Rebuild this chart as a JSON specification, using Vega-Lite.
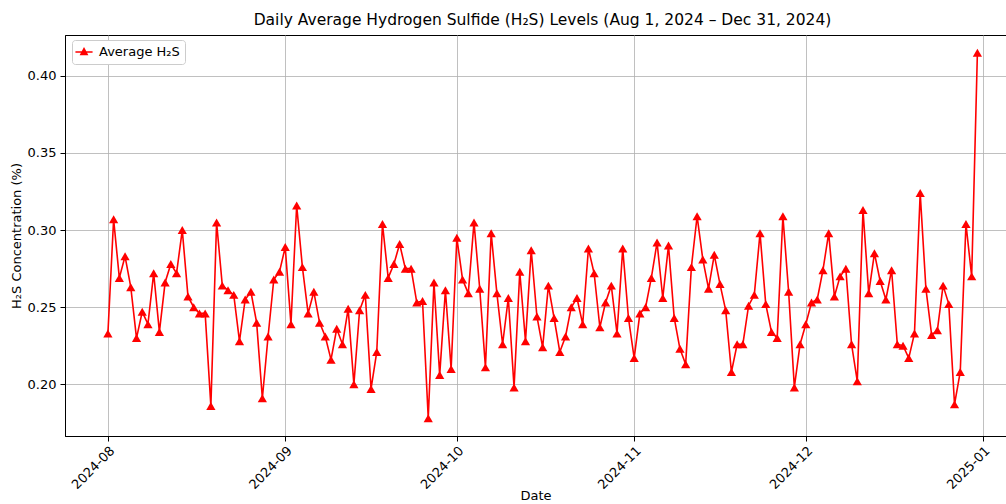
{
  "$schema": "https://vega.github.io/schema/vega-lite/v6.json",
  "width": 941,
  "height": 401,
  "autosize": "none",
  "padding": {"left": 65, "top": 35, "right": 0, "bottom": 68},
  "background": "white",
  "title": {"text": "Daily Average Hydrogen Sulfide (H₂S) Levels (Aug 1, 2024 – Dec 31, 2024)", "font": "DejaVu Sans", "fontSize": 15.5, "fontWeight": "normal", "color": "black", "offset": 7, "dx": 7},
  "config": {
    "font": "DejaVu Sans",
    "view": {"stroke": "black", "strokeWidth": 1},
    "axis": {"labelFont": "DejaVu Sans", "titleFont": "DejaVu Sans", "labelFontSize": 13, "titleFontSize": 13, "titleFontWeight": "normal", "labelColor": "black", "titleColor": "black", "gridColor": "#b0b0b0", "gridWidth": 0.8, "tickColor": "black", "tickSize": 5, "domainColor": "black"}
  },
  "data": {"values": [
    {"date":"2024-08-01","h2s":0.233},{"date":"2024-08-02","h2s":0.307},{"date":"2024-08-03","h2s":0.269},{"date":"2024-08-04","h2s":0.283},{"date":"2024-08-05","h2s":0.263},{"date":"2024-08-06","h2s":0.230},{"date":"2024-08-07","h2s":0.247},{"date":"2024-08-08","h2s":0.239},{"date":"2024-08-09","h2s":0.272},{"date":"2024-08-10","h2s":0.234},{"date":"2024-08-11","h2s":0.266},{"date":"2024-08-12","h2s":0.278},{"date":"2024-08-13","h2s":0.272},{"date":"2024-08-14","h2s":0.300},{"date":"2024-08-15","h2s":0.257},{"date":"2024-08-16","h2s":0.250},{"date":"2024-08-17","h2s":0.246},{"date":"2024-08-18","h2s":0.246},{"date":"2024-08-19","h2s":0.186},{"date":"2024-08-20","h2s":0.305},{"date":"2024-08-21","h2s":0.264},{"date":"2024-08-22","h2s":0.261},{"date":"2024-08-23","h2s":0.258},{"date":"2024-08-24","h2s":0.228},{"date":"2024-08-25","h2s":0.255},{"date":"2024-08-26","h2s":0.260},{"date":"2024-08-27","h2s":0.240},{"date":"2024-08-28","h2s":0.191},{"date":"2024-08-29","h2s":0.231},{"date":"2024-08-30","h2s":0.268},{"date":"2024-08-31","h2s":0.273},
    {"date":"2024-09-01","h2s":0.289},{"date":"2024-09-02","h2s":0.239},{"date":"2024-09-03","h2s":0.316},{"date":"2024-09-04","h2s":0.276},{"date":"2024-09-05","h2s":0.246},{"date":"2024-09-06","h2s":0.260},{"date":"2024-09-07","h2s":0.240},{"date":"2024-09-08","h2s":0.231},{"date":"2024-09-09","h2s":0.216},{"date":"2024-09-10","h2s":0.236},{"date":"2024-09-11","h2s":0.226},{"date":"2024-09-12","h2s":0.249},{"date":"2024-09-13","h2s":0.200},{"date":"2024-09-14","h2s":0.248},{"date":"2024-09-15","h2s":0.258},{"date":"2024-09-16","h2s":0.197},{"date":"2024-09-17","h2s":0.221},{"date":"2024-09-18","h2s":0.304},{"date":"2024-09-19","h2s":0.269},{"date":"2024-09-20","h2s":0.278},{"date":"2024-09-21","h2s":0.291},{"date":"2024-09-22","h2s":0.275},{"date":"2024-09-23","h2s":0.275},{"date":"2024-09-24","h2s":0.253},{"date":"2024-09-25","h2s":0.254},{"date":"2024-09-26","h2s":0.178},{"date":"2024-09-27","h2s":0.266},{"date":"2024-09-28","h2s":0.206},{"date":"2024-09-29","h2s":0.261},{"date":"2024-09-30","h2s":0.210},
    {"date":"2024-10-01","h2s":0.295},{"date":"2024-10-02","h2s":0.268},{"date":"2024-10-03","h2s":0.259},{"date":"2024-10-04","h2s":0.305},{"date":"2024-10-05","h2s":0.262},{"date":"2024-10-06","h2s":0.211},{"date":"2024-10-07","h2s":0.298},{"date":"2024-10-08","h2s":0.259},{"date":"2024-10-09","h2s":0.226},{"date":"2024-10-10","h2s":0.256},{"date":"2024-10-11","h2s":0.198},{"date":"2024-10-12","h2s":0.273},{"date":"2024-10-13","h2s":0.228},{"date":"2024-10-14","h2s":0.287},{"date":"2024-10-15","h2s":0.244},{"date":"2024-10-16","h2s":0.224},{"date":"2024-10-17","h2s":0.264},{"date":"2024-10-18","h2s":0.243},{"date":"2024-10-19","h2s":0.221},{"date":"2024-10-20","h2s":0.231},{"date":"2024-10-21","h2s":0.250},{"date":"2024-10-22","h2s":0.256},{"date":"2024-10-23","h2s":0.239},{"date":"2024-10-24","h2s":0.288},{"date":"2024-10-25","h2s":0.272},{"date":"2024-10-26","h2s":0.237},{"date":"2024-10-27","h2s":0.253},{"date":"2024-10-28","h2s":0.264},{"date":"2024-10-29","h2s":0.233},{"date":"2024-10-30","h2s":0.288},{"date":"2024-10-31","h2s":0.243},
    {"date":"2024-11-01","h2s":0.217},{"date":"2024-11-02","h2s":0.246},{"date":"2024-11-03","h2s":0.250},{"date":"2024-11-04","h2s":0.269},{"date":"2024-11-05","h2s":0.292},{"date":"2024-11-06","h2s":0.256},{"date":"2024-11-07","h2s":0.290},{"date":"2024-11-08","h2s":0.243},{"date":"2024-11-09","h2s":0.223},{"date":"2024-11-10","h2s":0.213},{"date":"2024-11-11","h2s":0.276},{"date":"2024-11-12","h2s":0.309},{"date":"2024-11-13","h2s":0.281},{"date":"2024-11-14","h2s":0.262},{"date":"2024-11-15","h2s":0.284},{"date":"2024-11-16","h2s":0.265},{"date":"2024-11-17","h2s":0.248},{"date":"2024-11-18","h2s":0.208},{"date":"2024-11-19","h2s":0.226},{"date":"2024-11-20","h2s":0.226},{"date":"2024-11-21","h2s":0.251},{"date":"2024-11-22","h2s":0.258},{"date":"2024-11-23","h2s":0.298},{"date":"2024-11-24","h2s":0.252},{"date":"2024-11-25","h2s":0.234},{"date":"2024-11-26","h2s":0.230},{"date":"2024-11-27","h2s":0.309},{"date":"2024-11-28","h2s":0.260},{"date":"2024-11-29","h2s":0.198},{"date":"2024-11-30","h2s":0.226},
    {"date":"2024-12-01","h2s":0.239},{"date":"2024-12-02","h2s":0.253},{"date":"2024-12-03","h2s":0.255},{"date":"2024-12-04","h2s":0.274},{"date":"2024-12-05","h2s":0.298},{"date":"2024-12-06","h2s":0.257},{"date":"2024-12-07","h2s":0.270},{"date":"2024-12-08","h2s":0.275},{"date":"2024-12-09","h2s":0.226},{"date":"2024-12-10","h2s":0.202},{"date":"2024-12-11","h2s":0.313},{"date":"2024-12-12","h2s":0.259},{"date":"2024-12-13","h2s":0.285},{"date":"2024-12-14","h2s":0.267},{"date":"2024-12-15","h2s":0.255},{"date":"2024-12-16","h2s":0.274},{"date":"2024-12-17","h2s":0.226},{"date":"2024-12-18","h2s":0.225},{"date":"2024-12-19","h2s":0.217},{"date":"2024-12-20","h2s":0.233},{"date":"2024-12-21","h2s":0.324},{"date":"2024-12-22","h2s":0.262},{"date":"2024-12-23","h2s":0.232},{"date":"2024-12-24","h2s":0.235},{"date":"2024-12-25","h2s":0.264},{"date":"2024-12-26","h2s":0.252},{"date":"2024-12-27","h2s":0.187},{"date":"2024-12-28","h2s":0.208},{"date":"2024-12-29","h2s":0.304},{"date":"2024-12-30","h2s":0.270},{"date":"2024-12-31","h2s":0.415}
  ]},
  "transform": [{"calculate": "'Average H₂S'", "as": "series"}],
  "mark": {"type": "line", "strokeWidth": 1.6, "clip": true, "point": {"shape": "triangle-up", "size": 85, "filled": true, "color": "#ff0000", "opacity": 1}},
  "encoding": {
    "x": {"field": "date", "type": "temporal", "title": "Date",
      "scale": {"type": "utc", "domain": [{"year": 2024, "month": 7, "date": 24, "hours": 12, "utc": true}, {"year": 2025, "month": 1, "date": 5, "hours": 0, "utc": true}]},
      "axis": {"values": [{"year": 2024, "month": 8, "date": 1, "utc": true}, {"year": 2024, "month": 9, "date": 1, "utc": true}, {"year": 2024, "month": 10, "date": 1, "utc": true}, {"year": 2024, "month": 11, "date": 1, "utc": true}, {"year": 2024, "month": 12, "date": 1, "utc": true}, {"year": 2025, "month": 1, "date": 1, "utc": true}], "format": "%Y-%m", "labelAngle": -45, "labelAlign": "right", "labelBaseline": "top", "labelPadding": 3, "titlePadding": -2, "labelFlush": false, "labelOverlap": false}},
    "y": {"field": "h2s", "type": "quantitative", "title": "H₂S Concentration (%)",
      "scale": {"domain": [0.1665, 0.4265], "nice": false, "zero": false},
      "axis": {"values": [0.20, 0.25, 0.30, 0.35, 0.40], "format": ".2f", "labelPadding": 4, "titlePadding": 4}},
    "color": {"field": "series", "type": "nominal", "scale": {"range": ["#ff0000"]},
      "legend": {"title": null, "orient": "none", "legendX": 7, "legendY": 5, "symbolType": "M-1.4,0H1.4M0,-0.55L0.5,0.4H-0.5Z", "symbolSize": 150, "symbolStrokeWidth": 1.6, "symbolFillColor": "#ff0000", "symbolStrokeColor": "#ff0000", "labelFont": "DejaVu Sans", "labelFontSize": 13, "labelColor": "black", "strokeColor": "#cccccc", "fillColor": "white", "padding": 5, "cornerRadius": 3, "labelOffset": 8}}
  }
}
